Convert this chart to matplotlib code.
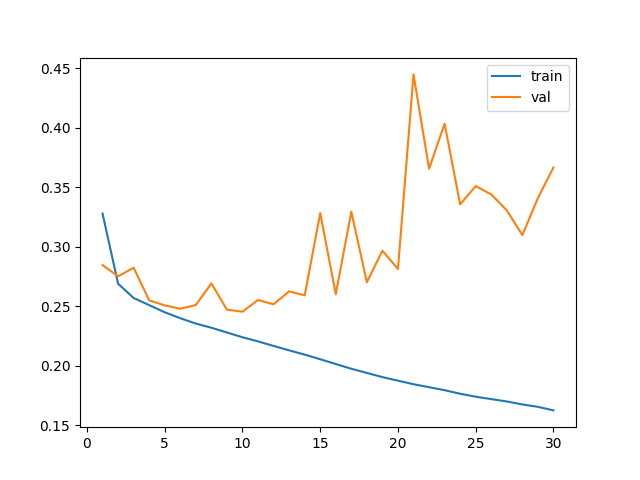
import matplotlib
matplotlib.use("Agg")
import matplotlib.pyplot as plt

# === Data ===
epochs = list(range(1, 31))
train_loss = [0.328, 0.269, 0.257, 0.251, 0.245, 0.240, 0.2355, 0.232, 0.228, 0.224,
              0.2205, 0.2167, 0.213, 0.2094, 0.2055, 0.2015, 0.1975, 0.194, 0.1905, 0.1875,
              0.1845, 0.182, 0.1795, 0.1765, 0.174, 0.172, 0.170, 0.1675, 0.1655, 0.1625]
val_loss = [0.2847, 0.2752, 0.2825, 0.255, 0.2508, 0.248, 0.2511, 0.2693, 0.2472, 0.2455,
            0.2553, 0.2517, 0.2626, 0.2592, 0.3284, 0.2601, 0.3296, 0.2702, 0.2968, 0.2814,
            0.445, 0.3657, 0.4035, 0.3357, 0.3511, 0.3441, 0.3307, 0.3099, 0.341, 0.3668]

# === Plot ===
fig, ax = plt.subplots(figsize=(6.4, 4.8), dpi=100)
ax.plot(epochs, train_loss, label="train")
ax.plot(epochs, val_loss, label="val")
ax.legend(loc="upper right")

plt.savefig("out.png")
